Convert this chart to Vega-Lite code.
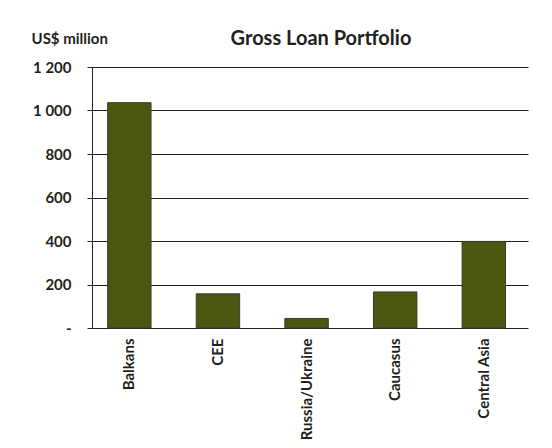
{
  "$schema": "https://vega.github.io/schema/vega-lite/v6.json",
  "autosize": "none",
  "width": 436,
  "height": 261,
  "padding": {"left": 92, "top": 67, "right": 24, "bottom": 120},
  "background": "white",
  "title": {
    "text": "Gross Loan Portfolio",
    "anchor": "middle",
    "dx": 11,
    "offset": -34,
    "baseline": "alphabetic",
    "font": "Lato",
    "fontSize": 20,
    "fontWeight": "bold",
    "color": "#231f20"
  },
  "data": {
    "values": [
      {"region": "Balkans", "value": 1036},
      {"region": "CEE", "value": 157},
      {"region": "Russia/Ukraine", "value": 44},
      {"region": "Caucasus", "value": 166},
      {"region": "Central Asia", "value": 398}
    ]
  },
  "mark": {"type": "bar", "fill": "#4b5611", "stroke": "#3b3b2b", "strokeWidth": 1},
  "encoding": {
    "x": {
      "field": "region",
      "type": "nominal",
      "sort": null,
      "scale": {"paddingInner": 0.51, "paddingOuter": 0.215, "align": 0.41},
      "axis": {
        "title": null,
        "labelAngle": 270,
        "labelAlign": "right",
        "labelBaseline": "middle",
        "labelPadding": 10,
        "ticks": false,
        "domain": false,
        "labelFont": "Lato",
        "labelFontSize": 15,
        "labelFontWeight": "bold",
        "labelColor": "#231f20"
      }
    },
    "y": {
      "field": "value",
      "type": "quantitative",
      "scale": {"domain": [0, 1200], "nice": false},
      "axis": {
        "values": [0, 200, 400, 600, 800, 1000, 1200],
        "labelExpr": "datum.value == 0 ? '-' : (datum.value >= 1000 ? '1 ' + format(datum.value - 1000, '03d') : format(datum.value, 'd'))",
        "title": "US$ million",
        "titleAngle": 0,
        "titleAlign": "left",
        "titleBaseline": "alphabetic",
        "titleX": -61,
        "titleY": -24,
        "titleFont": "Lato",
        "titleFontSize": 15,
        "titleFontWeight": "bold",
        "titleColor": "#231f20",
        "labelFont": "Lato",
        "labelFontSize": 15,
        "labelFontWeight": "bold",
        "labelColor": "#231f20",
        "labelPadding": 16,
        "tickSize": 5,
        "tickColor": "#231f20",
        "domainColor": "#231f20",
        "grid": true,
        "gridColor": "#231f20",
        "gridOpacity": 1,
        "gridWidth": 1
      }
    }
  },
  "config": {
    "view": {"stroke": null}
  }
}
